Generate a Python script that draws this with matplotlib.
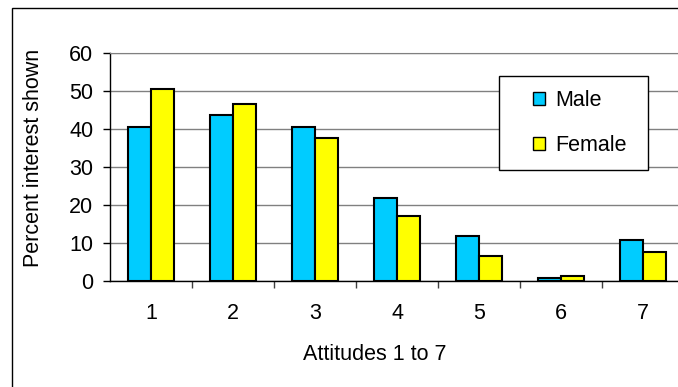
import matplotlib.pyplot as plt
import numpy as np
from matplotlib.patches import Patch, Rectangle

plt.rcParams["font.family"] = ["Liberation Sans", "DejaVu Sans"]

attitudes = ["1", "2", "3", "4", "5", "6", "7"]
male = [40.5, 43.7, 40.5, 21.8, 11.8, 0.9, 10.7]
female = [50.5, 46.4, 37.5, 17.1, 6.6, 1.4, 7.7]

W, H = 678, 387
FS = 15.5
fig = plt.figure(figsize=(W / 100, H / 100), dpi=100)

# outer chart border (right and bottom edges fall outside the canvas)
fig.patches.append(Rectangle((12 / W, -0.1), 1.0, 1.1 - 8 / H, transform=fig.transFigure,
                             fill=False, edgecolor="black", linewidth=1.0))

ax = fig.add_axes([110 / W, 1 - 281 / H, 574 / W, (281 - 52.7) / H])

x = np.arange(1, len(attitudes) + 1)
bw = 0.28
ax.bar(x - bw / 2, male, bw, color="#00CCFF", edgecolor="black", linewidth=1.5, zorder=3)
ax.bar(x + bw / 2, female, bw, color="#FFFF00", edgecolor="black", linewidth=1.5, zorder=3)

ax.set_xlim(0.5, len(attitudes) + 0.5)
ax.set_ylim(0, 60)
ax.set_yticks(range(0, 61, 10))
ax.yaxis.grid(True, color="#808080", linewidth=1.0, zorder=0)
ax.set_axisbelow(True)

ax.set_xticks(x)
ax.set_xticklabels(attitudes)
ax.set_xticks(np.arange(1.5, len(attitudes) + 0.5, 1.0), minor=True)
ax.tick_params(axis="x", which="major", length=0, pad=16, labelsize=FS)
ax.tick_params(axis="x", which="minor", length=5, width=1.0, direction="out", color="#404040")
ax.tick_params(axis="y", length=5, width=1.0, direction="out", pad=7, labelsize=FS)

for side in ("top", "right"):
    ax.spines[side].set_color("#808080")
ax.spines["left"].set_linewidth(1.0)
ax.spines["bottom"].set_linewidth(1.0)

fig.text(34 / W, 1 - 158 / H, "Percent interest shown", rotation=90,
         ha="center", va="center", fontsize=FS)
fig.text(375 / W, 1 - 355 / H, "Attitudes 1 to 7", ha="center", va="center", fontsize=FS)

# legend box with two swatches
fig.patches.append(Rectangle((499 / W, 1 - 170 / H), 149 / W, 94 / H, transform=fig.transFigure,
                             facecolor="white", edgecolor="black", linewidth=1.0, zorder=5))
handles = [Patch(facecolor="#00CCFF", edgecolor="black", linewidth=1.0),
           Patch(facecolor="#FFFF00", edgecolor="black", linewidth=1.0)]
leg = fig.legend(handles, ["Male", "Female"], loc="center left",
                 bbox_to_anchor=(533 / W, 1 - 123 / H), frameon=False, fontsize=FS,
                 handlelength=0.56, handleheight=0.56, handletextpad=0.47,
                 labelspacing=1.14, borderpad=0, borderaxespad=0)
leg.set_zorder(6)

fig.savefig("out.png", dpi=100)
